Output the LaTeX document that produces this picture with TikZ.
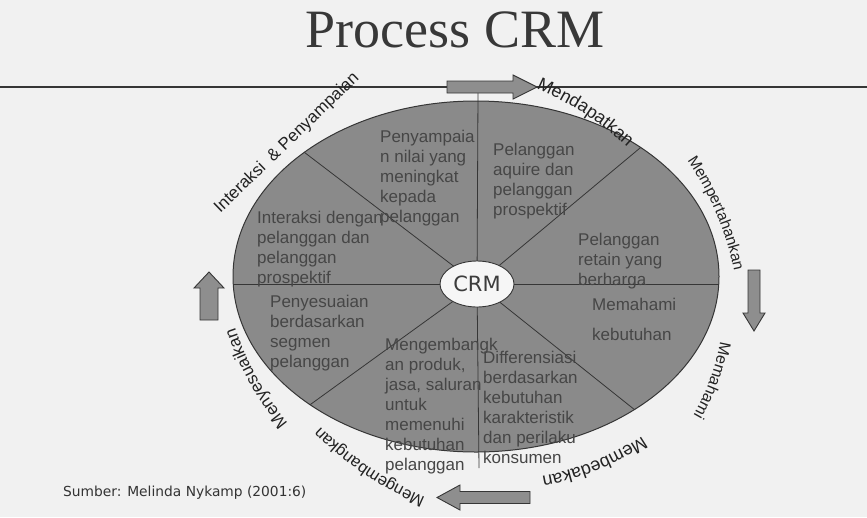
\documentclass[tikz,border=0pt]{standalone}
\usepackage{fontspec}
\setmainfont{Liberation Serif}
\setsansfont{Liberation Sans}
\newfontfamily\dejavu{DejaVu Sans}
\usetikzlibrary{shapes.geometric,decorations.text}
\definecolor{pagebg}{HTML}{F1F1F1}
\definecolor{ellfill}{HTML}{8A8A8A}
\definecolor{secttext}{HTML}{464646}
\definecolor{edgecol}{HTML}{363636}
\definecolor{arrowfill}{HTML}{8E8E8E}
\definecolor{lblcol}{HTML}{222222}
\definecolor{crmfill}{HTML}{F6F6F6}
\definecolor{crmtext}{HTML}{3C3C3C}
% curved outer label: #1 cx, #2 cy, #3 angle, #4 size, #5 half chord, #6 sagitta, #7 text
\newcommand\arclabel[7]{%
  \pgfmathsetmacro\alDX{cos(#3)}%
  \pgfmathsetmacro\alDY{-sin(#3)}%
  \pgfmathsetmacro\alOX{-sin(#3)}%
  \pgfmathsetmacro\alOY{-cos(#3)}%
  \pgfmathsetmacro\alMX{#1-(0.27*#4+#6)*\alOX}%
  \pgfmathsetmacro\alMY{#2-(0.27*#4+#6)*\alOY}%
  \pgfmathsetmacro\alSX{\alMX-#5*\alDX}%
  \pgfmathsetmacro\alSY{\alMY-#5*\alDY}%
  \pgfmathsetmacro\alEX{\alMX+#5*\alDX}%
  \pgfmathsetmacro\alEY{\alMY+#5*\alDY}%
  \pgfmathsetmacro\alH{4*#6/3}%
  \pgfmathsetmacro\alAX{\alSX+(2*#5/3)*\alDX+\alH*\alOX}%
  \pgfmathsetmacro\alAY{\alSY+(2*#5/3)*\alDY+\alH*\alOY}%
  \pgfmathsetmacro\alBX{\alEX-(2*#5/3)*\alDX+\alH*\alOX}%
  \pgfmathsetmacro\alBY{\alEY-(2*#5/3)*\alDY+\alH*\alOY}%
  \path[decorate, decoration={text along path, text align=center,
      text={|\sffamily\fontsize{#4}{#4}\selectfont\color{lblcol}|#7}}]
    (\alSX,\alSY) .. controls (\alAX,\alAY) and (\alBX,\alBY) .. (\alEX,\alEY);
}
\begin{document}
\begin{tikzpicture}[x=1pt,y=-1pt,
  sect/.style={anchor=north west, align=left, inner sep=0pt, text=secttext,
    font=\sffamily\fontsize{17}{20}\selectfont},
  lbl/.style={inner sep=0pt, text=lblcol, font=\sffamily\fontsize{#1}{#1}\selectfont},
  blockarrow/.style={draw=edgecol, fill=arrowfill, line width=0.9pt, line join=miter},
  divider/.style={draw=edgecol, line width=0.8pt}]
\useasboundingbox[fill=pagebg] (0,0) rectangle (867,517);

% title and rule
\node[font=\rmfamily\fontsize{54}{54}\selectfont, text=black!78, anchor=base] (title) at (455,47) {Process CRM};
\coordinate (ruleL) at (0,87);
\coordinate (ruleR) at (867,87);
\draw[edgecol, line width=1.2pt] (ruleL) -- (ruleR);

% big ellipse
\draw[fill=ellfill, draw=edgecol, line width=1pt] (476,276.5) ellipse [x radius=243, y radius=175.5];

% divider coordinates
\coordinate (crmc) at (477,284);
\coordinate (dUL) at (300,149);
\coordinate (dUR) at (646,143);
\coordinate (dLR) at (645,418);
\coordinate (dLL) at (300,412);
\coordinate (dL) at (225,284);
\coordinate (dR) at (725,284);
\coordinate (dT) at (478,93);
\coordinate (dB) at (479,468);
\begin{scope}
  \clip (476,276.5) ellipse [x radius=243, y radius=175.5];
  \draw[divider] (crmc) -- (dUL);
  \draw[divider] (crmc) -- (dUR);
  \draw[divider] (crmc) -- (dLR);
  \draw[divider] (crmc) -- (dLL);
  \draw[divider] (crmc) -- (dL);
  \draw[divider] (crmc) -- (dR);
\end{scope}
\draw[divider] (crmc) -- (dT);
\draw[divider] (crmc) -- (dB);

% centre node
\node[ellipse, draw=edgecol, fill=crmfill, line width=0.9pt, minimum width=74, minimum height=46,
  inner sep=0pt, font=\dejavu\fontsize{21}{21}\selectfont, text=crmtext] (crm) at (crmc) {CRM};

% sector texts
\node[sect] (s1) at (380,129.5) {Penyampaia\\n nilai yang\\meningkat\\kepada\\pelanggan};
\node[sect] (s2) at (493,142.5) {Pelanggan\\aquire dan\\pelanggan\\prospektif};
\node[sect] (s3) at (257,210.5) {Interaksi dengan\\pelanggan dan\\pelanggan\\prospektif};
\node[sect] (s4) at (270,294.5) {Penyesuaian\\berdasarkan\\segmen\\pelanggan};
\node[sect] (s5) at (385,337.5) {Mengembangk\\an produk,\\jasa, saluran\\untuk\\memenuhi\\kebutuhan\\pelanggan};
\node[sect] (s6) at (483,350.5) {Differensiasi\\berdasarkan\\kebutuhan\\karakteristik\\dan perilaku\\konsumen};
\node[sect] (s7) at (578,232.5) {Pelanggan\\retain yang\\berharga};
\node[sect] (s8) at (592,297.5) {Memahami\\[10pt]kebutuhan};

% block arrows
\draw[blockarrow] (447,81) -- (513,81) -- (513,75) -- (537,87) -- (513,99) -- (513,93) -- (447,93) -- cycle;
\draw[blockarrow] (748,270) -- (760,270) -- (760,313) -- (765,313) -- (754,331) -- (743,313) -- (748,313) -- cycle;
\draw[blockarrow] (530,491.5) -- (460,491.5) -- (460,485) -- (437,497.5) -- (460,510) -- (460,503.5) -- (530,503.5) -- cycle;
\draw[blockarrow] (200,320) -- (200,288) -- (194,288) -- (209,272) -- (224,288) -- (218,288) -- (218,320) -- cycle;

% outer labels
\node[lbl=17, rotate=44] (l1) at (287,143) {Interaksi\ \ \& Penyampaian};
\arclabel{587}{110}{-33}{18}{62}{6}{Mendapatkan}
\arclabel{720}{212}{-67}{15.5}{70}{8}{Mempertahankan}
\arclabel{714}{381}{-110}{16}{48}{5}{Memahami}
\arclabel{596}{466}{-158}{18}{64}{8}{Membedakan}
\arclabel{367}{471}{146}{16.5}{72}{8}{Mengembangkan}
\arclabel{253}{380}{119}{17}{64}{7}{Menyesuaikan}

% source
\node[font=\dejavu\fontsize{13.8}{13.8}\selectfont, text=black!80, anchor=west, inner sep=0pt] (src) at (63,493) {Sumber: Melinda Nykamp (2001:6)};
\end{tikzpicture}
\end{document}
